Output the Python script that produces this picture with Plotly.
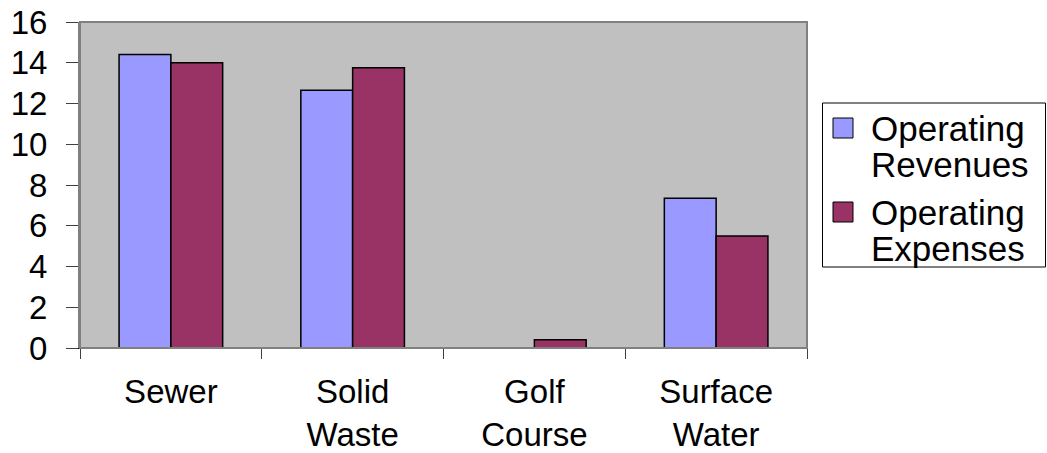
import plotly.graph_objects as go

categories = ["Sewer", "Solid<br>Waste", "Golf<br>Course", "Surface<br>Water"]
revenues = [14.4, 12.65, 0.0, 7.35]
expenses = [14.0, 13.75, 0.4, 5.5]
y_ticks = [0, 2, 4, 6, 8, 10, 12, 14, 16]
series_names = ["Operating<br>Revenues", "Operating<br>Expenses"]
series_colors = ["#9999FF", "#993366"]

FONT = "Liberation Sans, Arial, sans-serif"

# plot-area geometry in pixels, used to place the boxed legend
W, H = 1047, 453
L, R, T, B = 80, 240, 22, 105
PW, PH = W - L - R, H - T - B


def px_x(x):
    return (x - L) / PW


def px_y(y):
    return (H - B - y) / PH


fig = go.Figure()
for name, vals, color in zip(series_names, [revenues, expenses], series_colors):
    fig.add_trace(go.Bar(
        x=categories, y=vals, name=name,
        marker=dict(color=color, line=dict(color="black", width=1.5)),
    ))

# legend: white box with two swatches and two-line labels
shapes = [
    dict(type="rect", xref="paper", yref="paper", x0=0, x1=1, y0=0, y1=1,
         line=dict(color="#808080", width=2), layer="above"),
    dict(type="rect", xref="paper", yref="paper",
         x0=px_x(822.5), x1=px_x(1045.5), y0=px_y(103), y1=px_y(267),
         line=dict(color="black", width=1), fillcolor="white"),
]
annotations = []
swatch_tops = [118, 202]
for i, (name, color) in enumerate(zip(series_names, series_colors)):
    top = swatch_tops[i]
    shapes.append(dict(
        type="rect", xref="paper", yref="paper",
        x0=px_x(833), x1=px_x(853), y0=px_y(top), y1=px_y(top + 20),
        line=dict(color="black", width=1), fillcolor=color,
    ))
    for j, line in enumerate(name.split("<br>")):
        annotations.append(dict(
            text=line, xref="paper", yref="paper", showarrow=False,
            x=px_x(869), y=px_y(top + 10 + 36 * j),
            xanchor="left", yanchor="middle",
            font=dict(family=FONT, size=35, color="black"),
        ))

fig.update_layout(
    width=W, height=H,
    margin=dict(l=L, r=R, t=T, b=B),
    paper_bgcolor="white",
    plot_bgcolor="#C0C0C0",
    barmode="group",
    bargap=0.43,
    bargroupgap=0,
    font=dict(family=FONT, size=33, color="black"),
    showlegend=False,
    shapes=shapes,
    annotations=annotations,
)
fig.update_xaxes(
    type="category", tickson="boundaries", ticks="outside", ticklen=10,
    tickcolor="#404040", tickwidth=1, showline=True, linecolor="black",
    linewidth=1, showgrid=False, ticklabelstandoff=14, automargin=False,
    tickfont=dict(size=33),
)
fig.update_yaxes(
    range=[0, 16], tickvals=y_ticks, ticks="outside", ticklen=12,
    tickcolor="#404040", showline=True, linecolor="#808080", linewidth=2,
    showgrid=False, zeroline=False, ticklabelstandoff=12, automargin=False,
    tickfont=dict(size=33),
)

fig.write_html("out.html")
